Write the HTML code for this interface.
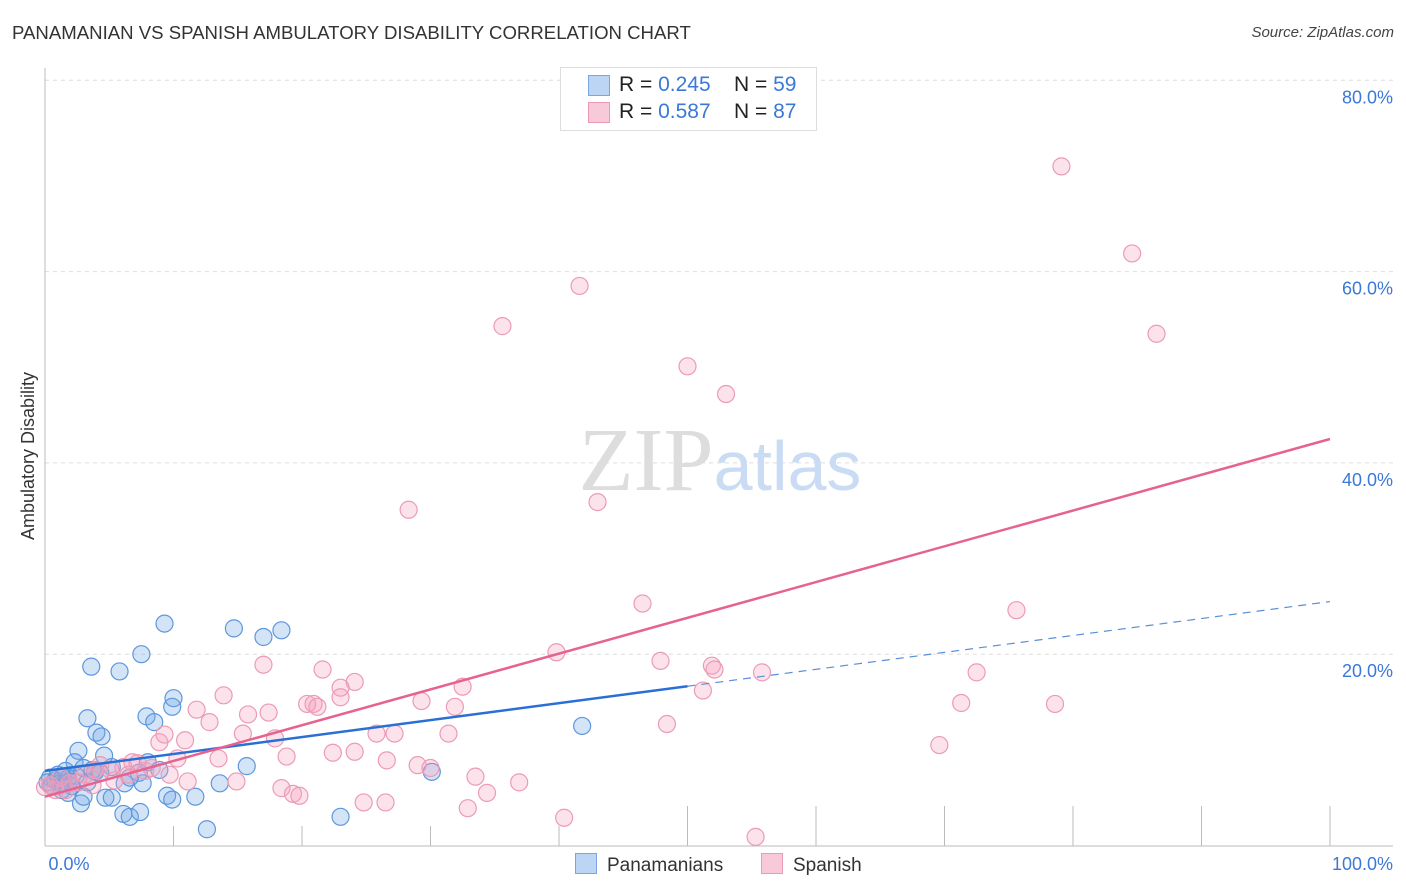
<!DOCTYPE html>
<html><head><meta charset="utf-8"><style>
body{margin:0;background:#fff;font-family:"Liberation Sans",sans-serif}
#wrap{position:relative;width:1406px;height:892px}
.t{position:absolute;white-space:nowrap}
</style></head><body>
<div id="wrap">
<div class="t" style="left:12px;top:22px;font-size:18.6px;color:#333">PANAMANIAN VS SPANISH AMBULATORY DISABILITY CORRELATION CHART</div>
<div class="t" style="right:12px;top:24px;font-size:15px;color:#444;font-style:italic">Source: ZipAtlas.com</div>
<svg id="plot" width="1406" height="892" style="position:absolute;left:0;top:0"></svg>
</div>
<script>
const xTicks=[0,10,20,30,40,50,60,70,80,90,100];
const yTicks=[20,40,60,80];
const yTickLabels=["20.0%","40.0%","60.0%","80.0%"];
const blueX=[9.3,14.7,17.0,18.4,3.6,5.8,7.5,7.9,8.5,10.0,9.9,3.3,4.0,4.4,2.6,4.6,2.3,1.6,3.0,3.7,5.2,8.0,7.3,7.6,13.6,15.7,0.4,0.8,1.2,1.8,2.1,1.3,1.8,2.8,3.0,4.7,5.2,6.1,6.6,7.4,9.5,9.9,11.7,12.6,23.0,30.1,41.8,1.0,0.5,2.4,3.9,6.2,1.9,0.2,4.3,1.4,3.3,6.6,8.9];
const blueY=[23.2,22.7,21.8,22.5,18.7,18.2,20.0,13.5,12.9,15.4,14.5,13.3,11.8,11.4,9.9,9.4,8.7,7.8,8.1,7.9,8.2,8.7,7.6,6.5,6.5,8.3,7.1,6.8,6.5,7.0,6.2,5.8,5.5,4.4,5.1,5.0,5.0,3.3,3.0,3.5,5.2,4.8,5.1,1.7,3.0,7.7,12.5,7.4,6.3,7.3,7.7,6.5,6.7,6.6,7.6,7.2,6.6,7.1,7.9];
const pinkX=[79.1,84.6,86.5,41.6,35.6,50.0,53.0,28.3,43.0,46.5,75.6,39.8,47.9,51.9,52.1,55.8,72.5,17.0,21.6,24.1,23.0,23.0,32.5,13.9,29.3,20.4,20.9,21.2,17.4,15.8,12.8,11.8,71.3,78.6,51.2,48.4,31.9,25.8,27.2,31.4,17.9,15.4,10.9,8.9,9.3,69.6,22.4,24.1,18.8,13.5,10.3,26.6,29.0,30.0,33.5,36.9,34.4,14.9,11.1,9.7,7.8,6.8,7.2,6.1,18.4,19.3,19.8,24.8,26.5,32.9,40.4,55.3,0.4,0.8,0.0,1.2,1.9,3.1,3.9,5.1,5.4,4.3,2.6,8.3,6.5,3.7,1.6];
const pinkY=[71.0,61.9,53.5,58.5,54.3,50.1,47.2,35.1,35.9,25.3,24.6,20.2,19.3,18.8,18.4,18.1,18.1,18.9,18.4,17.1,16.5,15.5,16.6,15.7,15.1,14.8,14.8,14.5,13.9,13.7,12.9,14.2,14.9,14.8,16.2,12.7,14.5,11.7,11.7,11.7,11.2,11.7,11.0,10.8,11.6,10.5,9.7,9.8,9.3,9.1,9.1,8.9,8.4,8.1,7.2,6.6,5.5,6.7,6.7,7.4,7.8,8.7,8.6,8.2,6.0,5.4,5.2,4.5,4.5,3.9,2.9,0.9,6.3,5.8,6.1,7.1,6.5,7.4,7.9,7.9,6.8,8.4,6.6,8.1,7.4,6.3,5.8];
const blueLine=[7.8,25.5]; const blueSolidEnd=50;
const pinkLine=[5.1,42.5];

const svg=document.getElementById('plot');const NS='http://www.w3.org/2000/svg';
const X=v=>45+v*12.85, Y=v=>845.5-v*9.565;
function mk(t,a,name){const e=document.createElementNS(NS,t);for(const k in a)e.setAttribute(k,a[k]);


svg.appendChild(e);return e;}
yTicks.forEach((v,i)=>{
 mk('line',{x1:45,x2:1393,y1:Y(v),y2:Y(v),stroke:'#ddd','stroke-dasharray':'4,4'},'gridline');
 const t=mk('text',{x:1393,y:Y(v)+23,'text-anchor':'end','font-size':18,fill:'#3b78d8','font-family':'Liberation Sans'},'y-tick-label');t.textContent=yTickLabels[i];
});
mk('line',{x1:45,x2:45,y1:68,y2:846,stroke:'#bbb'},'y-axis');
mk('line',{x1:45,x2:1393,y1:846,y2:846,stroke:'#bbb'},'x-axis');
xTicks.forEach((v,i)=>{if(i==0)return;mk('line',{x1:X(v),x2:X(v),y1:i>=5?806:826,y2:846,stroke:'#bbb'},'x-tick');});
const wm=mk('text',{x:720,y:490,'text-anchor':'middle','font-size':90,'font-family':'Liberation Serif',fill:'#ddd'},'watermark');
wm.innerHTML='ZIP<tspan fill="#c9dcf3" font-family="Liberation Sans" font-size="70">atlas</tspan>';
blueX.forEach((x,i)=>mk('circle',{cx:X(x),cy:Y(blueY[i]),r:8.5,fill:'rgba(110,165,230,0.3)',stroke:'#5e97dd','stroke-width':1.2},'panamanian-point'));
pinkX.forEach((x,i)=>mk('circle',{cx:X(x),cy:Y(pinkY[i]),r:8.5,fill:'rgba(245,160,190,0.3)',stroke:'#ec9bb6','stroke-width':1.2},'spanish-point'));
const bAt=v=>blueLine[0]+(blueLine[1]-blueLine[0])*v/100;
mk('line',{x1:X(0),y1:Y(bAt(0)),x2:X(blueSolidEnd),y2:Y(bAt(blueSolidEnd)),stroke:'#2a6fd6','stroke-width':2.5},'panamanian-trendline');
mk('line',{x1:X(blueSolidEnd),y1:Y(bAt(blueSolidEnd)),x2:X(100),y2:Y(bAt(100)),stroke:'#5a8fd8','stroke-width':1.2,'stroke-dasharray':'8,6'},'panamanian-trendline-extension');
mk('line',{x1:X(0),y1:Y(pinkLine[0]),x2:X(100),y2:Y(pinkLine[1]),stroke:'#e6628f','stroke-width':2.5},'spanish-trendline');
const a=mk('text',{x:69,y:870,'text-anchor':'middle','font-size':18,fill:'#3b78d8','font-family':'Liberation Sans'},'x-min-label');a.textContent='0.0%';
const b=mk('text',{x:1393,y:870,'text-anchor':'end','font-size':18,fill:'#3b78d8','font-family':'Liberation Sans'},'x-max-label');b.textContent='100.0%';
const yt=mk('text',{x:34,y:456,'text-anchor':'middle','font-size':18,fill:'#333','font-family':'Liberation Sans',transform:'rotate(-90 34 456)'},'y-axis-title');yt.textContent='Ambulatory Disability';
</script>
<div class="t" style="left:560px;top:67px;width:255px;height:62px;border:1px solid #ddd;background:#fff;font-size:21px;color:#222">
 <div style="position:absolute;left:27px;top:7px;width:20px;height:19px;background:#bcd5f5;border:1px solid #7aa7e3"></div>
 <div style="position:absolute;left:58px;top:5px">R = <span style="color:#3b78d8">0.245</span>&nbsp;&nbsp;&nbsp; N = <span style="color:#3b78d8">59</span></div>
 <div style="position:absolute;left:27px;top:34px;width:20px;height:19px;background:#f8c9d8;border:1px solid #ea9ab5"></div>
 <div style="position:absolute;left:58px;top:32px">R = <span style="color:#3b78d8">0.587</span>&nbsp;&nbsp;&nbsp; N = <span style="color:#3b78d8">87</span></div>
</div>
<div class="t" style="left:575px;top:853px;font-size:19px;color:#333"><span style="display:inline-block;width:20px;height:19px;background:#bcd5f5;border:1px solid #7aa7e3;vertical-align:-3px;margin-right:10px"></span>Panamanians</div>
<div class="t" style="left:761px;top:853px;font-size:19px;color:#333"><span style="display:inline-block;width:20px;height:19px;background:#f8c9d8;border:1px solid #ea9ab5;vertical-align:-3px;margin-right:10px"></span>Spanish</div>
</body></html>
